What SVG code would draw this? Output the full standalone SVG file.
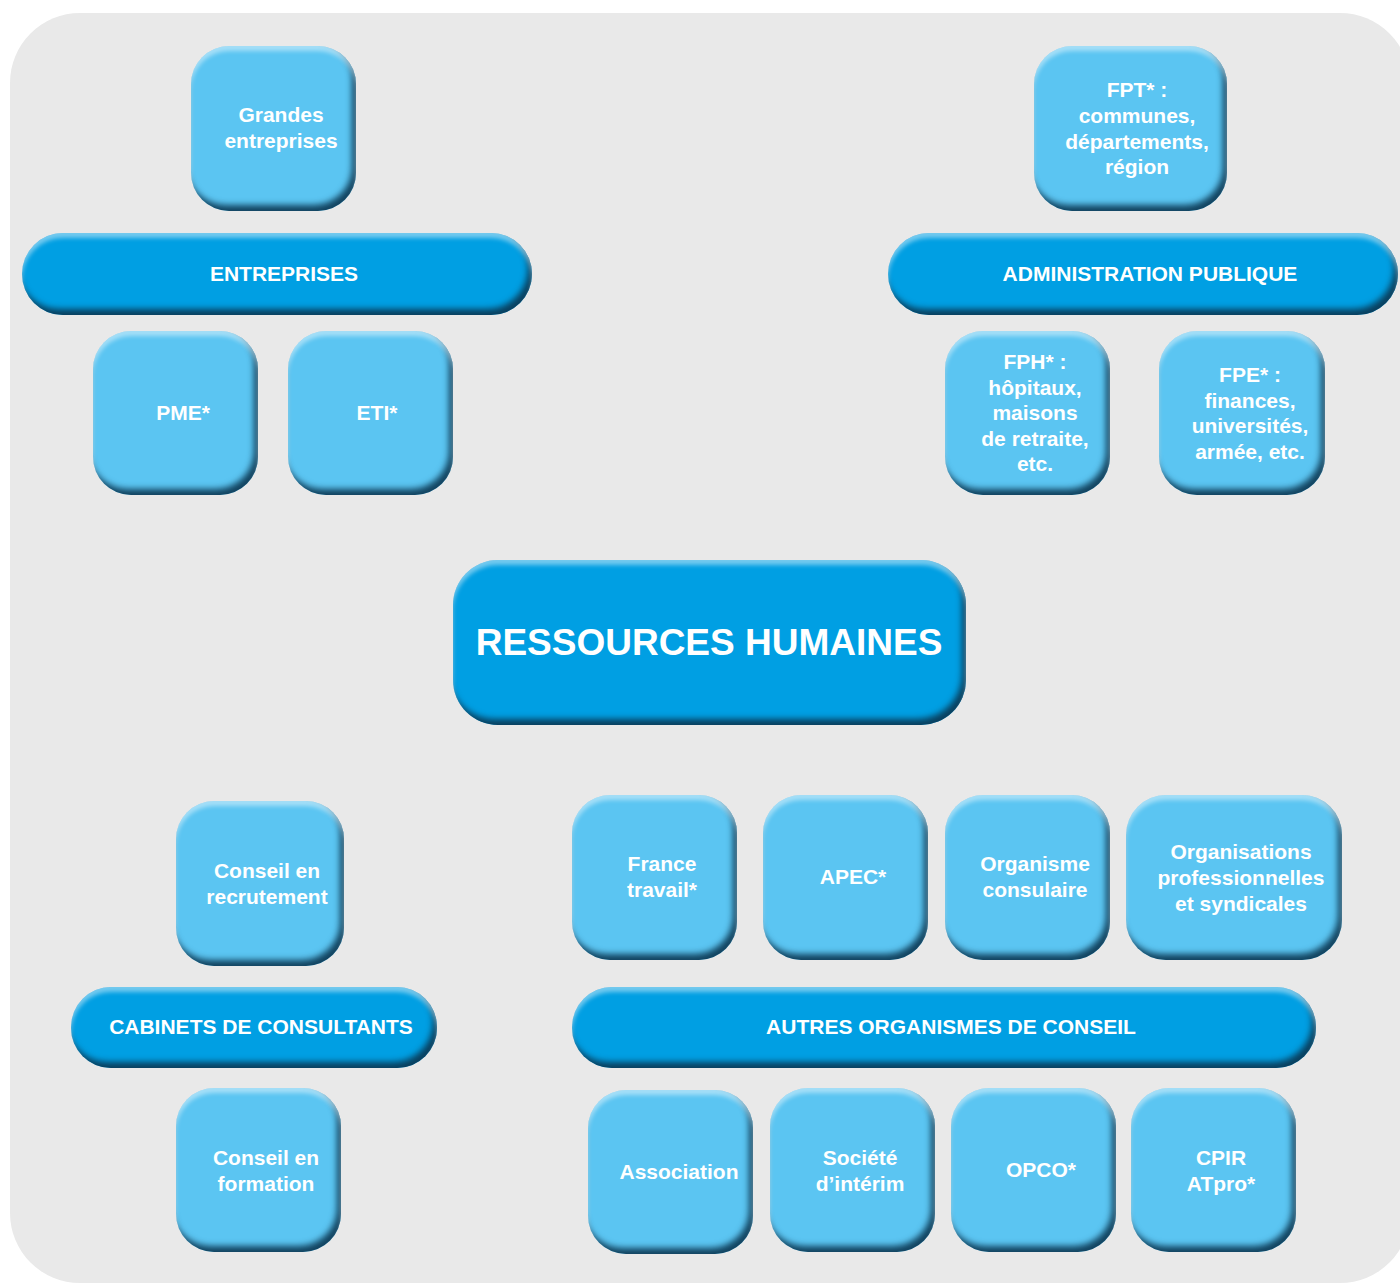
<svg xmlns="http://www.w3.org/2000/svg" width="1400" height="1283" viewBox="0 0 1400 1283">
<defs>
<filter id="bev" x="-5%" y="-10%" width="110%" height="120%" color-interpolation-filters="sRGB">
  <feOffset in="SourceAlpha" dx="-4" dy="-6" result="o1"/>
  <feGaussianBlur in="o1" stdDeviation="3" result="b1"/>
  <feComposite in="SourceAlpha" in2="b1" operator="out" result="e1"/>
  <feFlood flood-color="#0a3550" flood-opacity="0.9"/>
  <feComposite in2="e1" operator="in" result="sh"/>
  <feOffset in="SourceAlpha" dx="0" dy="5" result="o2"/>
  <feGaussianBlur in="o2" stdDeviation="2" result="b2"/>
  <feComposite in="SourceAlpha" in2="b2" operator="out" result="e2"/>
  <feFlood flood-color="#ffffff" flood-opacity="0.45"/>
  <feComposite in2="e2" operator="in" result="hl"/>
  <feMerge><feMergeNode in="SourceGraphic"/><feMergeNode in="sh"/><feMergeNode in="hl"/></feMerge>
</filter>
</defs>
<style>
.bg{fill:#e9e9e9}
.box{fill:#5bc5f2;filter:url(#bev)}
.bar{fill:#009fe3;filter:url(#bev)}
text{font-family:"Liberation Sans",Arial,Helvetica,sans-serif;font-weight:bold;fill:#ffffff;text-anchor:middle;font-size:21px}
.big{font-size:37px}
</style>
<rect class="bg" x="10" y="13" width="1400" height="1270" rx="70"/>
<g id="connectors"/>

<g id="grandes-entreprises"><rect class="box" x="191" y="46" width="165" height="165" rx="38"/><text x="281" y="122">Grandes</text><text x="281" y="148">entreprises</text></g>
<g id="entreprises"><rect class="bar" x="22" y="233" width="510" height="82" rx="41"/><text x="284" y="281">ENTREPRISES</text></g>
<g id="pme"><rect class="box" x="93" y="331" width="165" height="164" rx="38"/><text x="183" y="420">PME*</text></g>
<g id="eti"><rect class="box" x="288" y="331" width="165" height="164" rx="38"/><text x="377" y="420">ETI*</text></g>

<g id="fpt"><rect class="box" x="1034" y="46" width="193" height="165" rx="38"/><text x="1137" y="97">FPT* :</text><text x="1137" y="123">communes,</text><text x="1137" y="149">départements,</text><text x="1137" y="174">région</text></g>
<g id="administration-publique"><rect class="bar" x="888" y="233" width="510" height="82" rx="41"/><text x="1150" y="281">ADMINISTRATION PUBLIQUE</text></g>
<g id="fph"><rect class="box" x="945" y="331" width="165" height="164" rx="38"/><text x="1035" y="369">FPH* :</text><text x="1035" y="395">hôpitaux,</text><text x="1035" y="420">maisons</text><text x="1035" y="446">de retraite,</text><text x="1035" y="471">etc.</text></g>
<g id="fpe"><rect class="box" x="1159" y="331" width="166" height="164" rx="38"/><text x="1250" y="382">FPE* :</text><text x="1250" y="408">finances,</text><text x="1250" y="433">universités,</text><text x="1250" y="459">armée, etc.</text></g>

<g id="ressources-humaines"><rect class="bar" x="453" y="560" width="513" height="165" rx="45"/><text class="big" x="709" y="655">RESSOURCES HUMAINES</text></g>

<g id="conseil-recrutement"><rect class="box" x="176" y="801" width="168" height="165" rx="38"/><text x="267" y="878">Conseil en</text><text x="267" y="904">recrutement</text></g>
<g id="cabinets-de-consultants"><rect class="bar" x="71" y="987" width="366" height="81" rx="40"/><text x="261" y="1034">CABINETS DE CONSULTANTS</text></g>
<g id="conseil-formation"><rect class="box" x="176" y="1088" width="165" height="164" rx="38"/><text x="266" y="1165">Conseil en</text><text x="266" y="1191">formation</text></g>

<g id="france-travail"><rect class="box" x="572" y="795" width="165" height="165" rx="38"/><text x="662" y="871">France</text><text x="662" y="897">travail*</text></g>
<g id="apec"><rect class="box" x="763" y="795" width="165" height="165" rx="38"/><text x="853" y="884">APEC*</text></g>
<g id="organisme-consulaire"><rect class="box" x="945" y="795" width="165" height="165" rx="38"/><text x="1035" y="871">Organisme</text><text x="1035" y="897">consulaire</text></g>
<g id="organisations-professionnelles"><rect class="box" x="1126" y="795" width="216" height="165" rx="40"/><text x="1241" y="859">Organisations</text><text x="1241" y="885">professionnelles</text><text x="1241" y="911">et syndicales</text></g>
<g id="autres-organismes"><rect class="bar" x="572" y="987" width="744" height="81" rx="40"/><text x="951" y="1034">AUTRES ORGANISMES DE CONSEIL</text></g>
<g id="association"><rect class="box" x="588" y="1090" width="165" height="164" rx="38"/><text x="679" y="1179">Association</text></g>
<g id="societe-interim"><rect class="box" x="770" y="1088" width="165" height="164" rx="38"/><text x="860" y="1165">Société</text><text x="860" y="1191">d’intérim</text></g>
<g id="opco"><rect class="box" x="951" y="1088" width="165" height="164" rx="38"/><text x="1041" y="1177">OPCO*</text></g>
<g id="cpir"><rect class="box" x="1131" y="1088" width="165" height="164" rx="38"/><text x="1221" y="1165">CPIR</text><text x="1221" y="1191">ATpro*</text></g>
</svg>
